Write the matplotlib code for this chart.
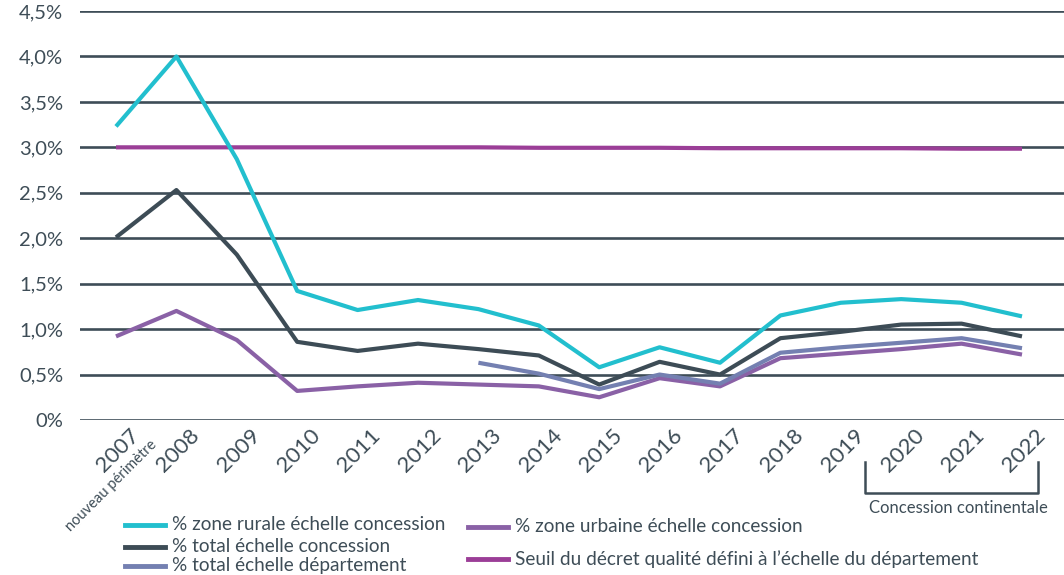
import matplotlib
matplotlib.use("Agg")
import matplotlib.pyplot as plt
from matplotlib.lines import Line2D
from matplotlib.transforms import ScaledTranslation

plt.rcParams['font.family'] = ['Lato', 'DejaVu Sans']

years = list(range(2007, 2023))
year_labels = [str(y) for y in years]

rurale = [3.23, 4.00, 2.87, 1.42, 1.21, 1.32, 1.22, 1.04, 0.58, 0.80, 0.63, 1.15, 1.29, 1.33, 1.29, 1.14]
total_concession = [2.01, 2.53, 1.82, 0.86, 0.76, 0.84, 0.78, 0.71, 0.39, 0.64, 0.50, 0.90, 0.97, 1.05, 1.06, 0.92]
dept_years = list(range(2013, 2023))
total_departement = [0.63, 0.51, 0.34, 0.50, 0.40, 0.74, 0.80, 0.85, 0.90, 0.79]
urbaine = [0.92, 1.20, 0.88, 0.32, 0.37, 0.41, 0.39, 0.37, 0.25, 0.46, 0.37, 0.68, 0.73, 0.78, 0.84, 0.72]
seuil = [3.00, 3.00, 3.00, 3.00, 3.00, 3.00, 3.00, 2.995, 2.995, 2.995, 2.99, 2.99, 2.99, 2.99, 2.985, 2.985]

yticks = [0, 0.5, 1.0, 1.5, 2.0, 2.5, 3.0, 3.5, 4.0, 4.5]
ytick_labels = ['0%', '0,5%', '1,0%', '1,5%', '2,0%', '2,5%', '3,0%', '3,5%', '4,0%', '4,5%']

legend_labels = ['% zone rurale échelle concession',
                 '% total échelle concession',
                 '% total échelle département',
                 '% zone urbaine échelle concession',
                 'Seuil du décret qualité défini à l\u2019échelle du département']

C_RUR = '#22BFCE'
C_TOT = '#3D4C56'
C_DEP = '#7480B1'
C_URB = '#8A61A6'
C_SEU = '#9B3E97'
C_TXT = '#3E4D57'

W, H = 1064, 575
fig = plt.figure(figsize=(W / 100, H / 100), dpi=100)
ax = fig.add_axes([80 / W, (H - 420) / H, (W - 80) / W, (420 - 11) / H])

ax.set_ylim(0, 4.5)
ax.set_xlim(2007 - 36 / 60.4, 2022 + 42 / 60.4)
ax.set_yticks(yticks)
ax.set_yticklabels(ytick_labels)
ax.yaxis.grid(True, color=C_TXT, lw=1.9)
ax.set_axisbelow(True)
for s in ax.spines.values():
    s.set_visible(False)
ax.tick_params(axis='both', length=0, colors=C_TXT)
ax.tick_params(axis='y', labelsize=14.5, pad=12)

lw = 3.0
ax.plot(years, seuil, color=C_SEU, lw=lw, solid_capstyle='butt', clip_on=False)
ax.plot(years, urbaine, color=C_URB, lw=lw, solid_capstyle='butt', clip_on=False)
ax.plot(dept_years, total_departement, color=C_DEP, lw=lw, solid_capstyle='butt', clip_on=False)
ax.plot(years, total_concession, color=C_TOT, lw=lw, solid_capstyle='butt', clip_on=False)
ax.plot(years, rurale, color=C_RUR, lw=lw, solid_capstyle='butt', clip_on=False)

ax.set_xticks(years)
ax.set_xticklabels(year_labels, rotation=45, ha='right', va='top',
                   rotation_mode='anchor', fontsize=16, color=C_TXT)
off = ScaledTranslation(13 / 100, 0 / 100, fig.dpi_scale_trans)
for lab in ax.get_xticklabels():
    lab.set_transform(lab.get_transform() + off)

# annotation under 2007
fig.text(150 / W, 1 - 438 / H, 'nouveau périmètre', rotation=45, ha='right', va='top',
         rotation_mode='anchor', fontsize=10.5, color=C_TXT)

# bracket for Concession continentale
bx0, bx1, by0, by1 = 865, 1038, 462, 493
fig.add_artist(Line2D([bx0 / W, bx0 / W, bx1 / W, bx1 / W],
                      [1 - by0 / H, 1 - by1 / H, 1 - by1 / H, 1 - by0 / H],
                      color=C_TXT, lw=1.8))
fig.text(958 / W, 1 - 508 / H, 'Concession continentale', ha='center', va='center',
         fontsize=12, color=C_TXT)

# legend (manual)
entries = [
    (125, 525, C_RUR, legend_labels[0]),
    (125, 547, C_TOT, legend_labels[1]),
    (125, 566, C_DEP, legend_labels[2]),
    (468, 527, C_URB, legend_labels[3]),
    (468, 559, C_SEU, legend_labels[4]),
]
for x0, y0, c, t in entries:
    fig.add_artist(Line2D([x0 / W, (x0 + 40) / W], [1 - y0 / H, 1 - y0 / H], color=c, lw=3.5))
    fig.text((x0 + 47) / W, 1 - y0 / H, t, ha='left', va='center', fontsize=13.7, color=C_TXT)

fig.savefig('out.png', dpi=100)
